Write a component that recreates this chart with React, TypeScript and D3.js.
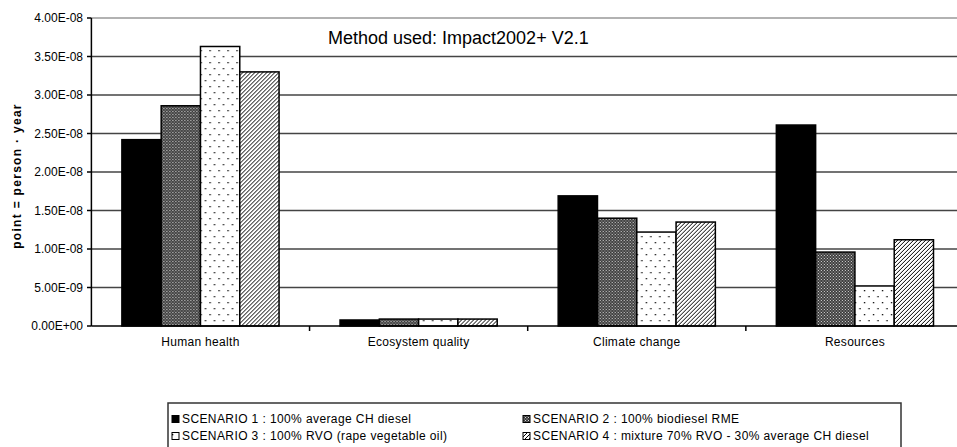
import React from "react";
import * as d3 from "d3";

const categories = ["Human health", "Ecosystem quality", "Climate change", "Resources"];
const seriesKeys = ["s1", "s2", "s3", "s4"];
const seriesLabels = [
  "SCENARIO 1 : 100% average CH diesel",
  "SCENARIO 2 : 100% biodiesel RME",
  "SCENARIO 3 : 100% RVO (rape vegetable oil)",
  "SCENARIO 4 : mixture 70% RVO - 30% average CH diesel",
];
const scenario1 = [2.42e-8, 7.8e-10, 1.69e-8, 2.61e-8];
const scenario2 = [2.86e-8, 9.0e-10, 1.4e-8, 9.6e-9];
const scenario3 = [3.63e-8, 9.0e-10, 1.22e-8, 5.2e-9];
const scenario4 = [3.3e-8, 9.0e-10, 1.35e-8, 1.12e-8];
const yTicks = [0, 5e-9, 1e-8, 1.5e-8, 2e-8, 2.5e-8, 3e-8, 3.5e-8, 4e-8];

const W = 957;
const H = 447;
const FONT = "'Liberation Sans', Arial, sans-serif";

function fmtSci(v: number) {
  const [m, e] = v.toExponential(2).split("e");
  const sign = e.startsWith("-") ? "-" : "+";
  const digits = e.replace(/[+-]/, "").padStart(2, "0");
  return `${m}E${sign}${digits}`;
}

export default function App() {
  const values = [scenario1, scenario2, scenario3, scenario4];
  const fills = ["#000", "url(#p2)", "url(#p3)", "url(#p4)"];

  const x = d3.scaleBand<string>().domain(categories).range([91.4, 964]).padding(0);
  const xs = d3
    .scaleBand<string>()
    .domain(seriesKeys)
    .range([0, x.bandwidth()])
    .paddingInner(0)
    .paddingOuter(0.776);
  const y = d3.scaleLinear().domain([0, 4e-8]).range([326, 18]);
  const x0 = 91.4;

  return (
    <svg
      width={W}
      height={H}
      style={{ position: "absolute", left: 0, top: 0, background: "#fff" }}
      fontFamily={FONT}
    >
      <defs>
        <pattern id="p2" width={3} height={3} patternUnits="userSpaceOnUse">
          <rect width={3} height={3} fill="#3a3a3a" />
          <rect x={0} y={0} width={1} height={1} fill="#ddd" />
          <rect x={1.5} y={1.5} width={1} height={1} fill="#ddd" />
        </pattern>
        <pattern id="p3" width={9} height={12} patternUnits="userSpaceOnUse">
          <rect width={9} height={12} fill="#fff" />
          <rect x={1} y={2} width={1.3} height={1.3} fill="#000" />
          <rect x={5.5} y={8} width={1.3} height={1.3} fill="#000" />
        </pattern>
        <pattern id="p4" width={4} height={4} patternUnits="userSpaceOnUse">
          <rect width={4} height={4} fill="#fff" />
          <path d="M-1,1 L1,-1 M0,4 L4,0 M3,5 L5,3" stroke="#000" strokeWidth={1} />
        </pattern>
      </defs>

      {/* gridlines */}
      {yTicks.slice(1).map((t, i) => (
        <line
          key={t}
          x1={x0}
          x2={W}
          y1={y(t)}
          y2={y(t)}
          stroke={i === yTicks.length - 2 ? "#999" : "#444"}
          strokeWidth={1.5}
        />
      ))}

      {/* bars */}
      {categories.map((c, ci) => (
        <g key={c} transform={`translate(${x(c)},0)`}>
          {seriesKeys.map((k, si) => {
            const v = values[si][ci];
            return (
              <rect
                key={k}
                x={xs(k)}
                y={y(v)}
                width={xs.bandwidth()}
                height={y(0) - y(v)}
                fill={fills[si]}
                stroke="#000"
                strokeWidth={1.5}
              />
            );
          })}
        </g>
      ))}

      {/* axes */}
      <line x1={x0} x2={x0} y1={18} y2={326} stroke="#000" strokeWidth={1.5} />
      <line x1={x0} x2={W} y1={326} y2={326} stroke="#000" strokeWidth={1.5} />
      {yTicks.map((t) => (
        <g key={t}>
          <line x1={87} x2={x0} y1={y(t)} y2={y(t)} stroke="#000" strokeWidth={1.5} />
          <text x={83} y={y(t)} dy="0.35em" textAnchor="end" fontSize={12} fill="#000">
            {fmtSci(t)}
          </text>
        </g>
      ))}
      {categories.slice(1).map((c) => (
        <line key={c} x1={x(c)} x2={x(c)} y1={326} y2={331} stroke="#000" strokeWidth={1.5} />
      ))}
      {categories.map((c) => (
        <text
          key={c}
          x={(x(c) as number) + x.bandwidth() / 2}
          y={346}
          textAnchor="middle"
          fontSize={12}
          letterSpacing={0.3}
          fill="#000"
        >
          {c}
        </text>
      ))}

      <text
        transform="translate(21,176) rotate(-90)"
        textAnchor="middle"
        fontSize={12}
        fontWeight="bold"
        letterSpacing={1.3}
        fill="#000"
      >
        point = person · year
      </text>

      <text x={328} y={44} fontSize={18} fill="#000">
        Method used: Impact2002+ V2.1
      </text>

      {/* legend */}
      <rect x={168} y={403} width={733} height={60} fill="#fff" stroke="#333" strokeWidth={1.5} />
      {seriesLabels.map((l, i) => {
        const col = i % 2;
        const row = Math.floor(i / 2);
        const lx = col === 0 ? 172 : 523;
        const cy = row === 0 ? 419 : 436;
        return (
          <g key={l}>
            <rect x={lx} y={cy - 3.5} width={7} height={7} fill={fills[i]} stroke="#000" strokeWidth={1} />
            <text x={lx + 10} y={cy} dy="0.35em" fontSize={12} letterSpacing={0.4} fill="#000">
              {l}
            </text>
          </g>
        );
      })}
    </svg>
  );
}
